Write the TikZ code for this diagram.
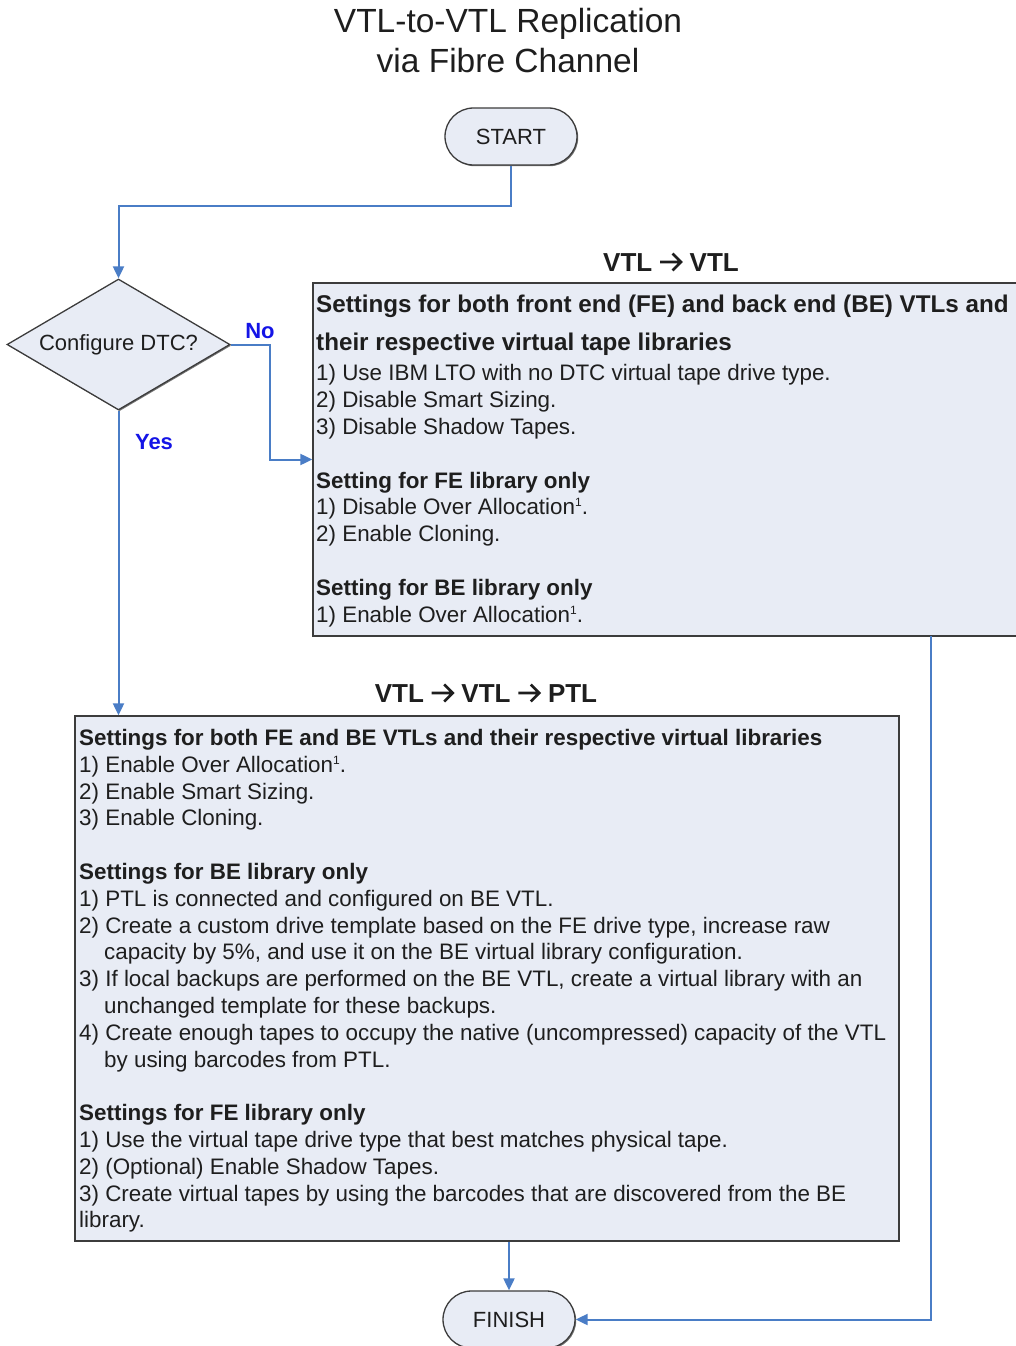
\documentclass[tikz,border=0pt]{standalone}
\usepackage{fontspec}
\setmainfont{Liberation Sans}
\usetikzlibrary{shapes.geometric,shapes.misc,arrows.meta,shadows}
\definecolor{boxfill}{HTML}{E8ECF5}
\definecolor{boxline}{HTML}{3C3C3C}
\definecolor{conncol}{HTML}{4A7DC6}
\definecolor{lblblue}{HTML}{1414E6}
\definecolor{txt}{HTML}{1E1E1E}
\newcommand{\sone}{\raisebox{8pt}{\fontsize{12}{12}\selectfont 1}}
\newcommand{\harr}{\tikz[baseline=0pt,x=1pt,y=1pt]{\path[use as bounding box] (0,0) rectangle (23,18);
  \draw[draw=txt,line width=2.7pt,line cap=butt,line join=miter] (0.5,9) -- (21,9) (13,17.5) -- (21.5,9) -- (13,0.5);}}
\begin{document}
\begin{tikzpicture}[x=1pt,y=-1pt,
  every node/.style={text=txt},
  shape box/.style={draw=boxline,line width=1.3pt,fill=boxfill,
    drop shadow={shadow xshift=1.2pt,shadow yshift=-1.2pt,fill=black!55,opacity=1}},
  terminal/.style={shape box,rounded rectangle,minimum width=132pt,minimum height=57pt,
    inner sep=0pt,font=\fontsize{22}{26}\selectfont},
  decision/.style={shape box,diamond,minimum width=223pt,minimum height=131pt,
    inner sep=0pt,aspect=1.7,font=\fontsize{22}{26}\selectfont},
  panel/.style={shape box,rectangle,inner sep=0pt},
  bodytext/.style={anchor=north west,inner sep=0pt,align=left,
    font=\fontsize{22.4}{26.8}\selectfont},
  heading/.style={font=\bfseries\fontsize{26}{30}\selectfont,inner sep=0pt},
  lbl/.style={text=lblblue,font=\bfseries\fontsize{22}{26}\selectfont,inner sep=0pt},
  conn/.style={draw=conncol,line width=2pt,-{Triangle[length=12pt,width=11pt]}}]
\path[use as bounding box] (0,0) rectangle (1016,1346);
\clip (0,0) rectangle (1016,1346);

% title
\node[font=\fontsize{33.5}{40}\selectfont,align=center,inner sep=0pt] (title) at (508,41)
  {VTL-to-VTL Replication\\via Fibre Channel};

% terminals and decision
\node[terminal] (start) at (511,136.5) {START};
\node[decision] (dtc) at (118.5,344.5) {Configure DTC?};
\node[terminal] (finish) at (509,1319.5) {FINISH};

% panels
\node[panel,minimum width=717pt,minimum height=353pt] (box1) at (671.5,459.5) {};
\node[panel,minimum width=824pt,minimum height=525pt] (box2) at (487,978.5) {};

\node[heading] (h1) at (671,262) {VTL \harr\ VTL};
\node[heading] (h2) at (486,693) {VTL \harr\ VTL \harr\ PTL};

\node[bodytext] (t1) at (316,295) {%
{\bfseries\fontsize{24.2}{26.8}\selectfont Settings for both front end (FE) and back end (BE) VTLs and}\\[11.3pt]
{\bfseries\fontsize{24.2}{26.8}\selectfont their respective virtual tape libraries}\\[3.3pt]
1) Use IBM LTO with no DTC virtual tape drive type.\\
2) Disable Smart Sizing.\\
3) Disable Shadow Tapes.\\[26.8pt]
\textbf{Setting for FE library only}\\
1) Disable Over Allocation\sone.\\
2) Enable Cloning.\\[26.8pt]
\textbf{Setting for BE library only}\\
1) Enable Over Allocation\sone.};

\node[bodytext] (t2) at (79,729) {%
\textbf{Settings for both FE and BE VTLs and their respective virtual libraries}\\
1) Enable Over Allocation\sone.\\
2) Enable Smart Sizing.\\
3) Enable Cloning.\\[26.8pt]
\textbf{Settings for BE library only}\\
1) PTL is connected and configured on BE VTL.\\
2) Create a custom drive template based on the FE drive type, increase raw\\
\hspace*{25pt}capacity by 5\%, and use it on the BE virtual library configuration.\\
3) If local backups are performed on the BE VTL, create a virtual library with an\\
\hspace*{25pt}unchanged template for these backups.\\
4) Create enough tapes to occupy the native (uncompressed) capacity of the VTL\\
\hspace*{25pt}by using barcodes from PTL.\\[26.8pt]
\textbf{Settings for FE library only}\\
1) Use the virtual tape drive type that best matches physical tape.\\
2) (Optional) Enable Shadow Tapes.\\
3) Create virtual tapes by using the barcodes that are discovered from the BE\\
library.};

% connectors
\draw[conn] (start.south) -- ++(0,40) -| (dtc.north);
\draw[conn] (dtc.east) -- ++(39,0) |- (box1.west);
\draw[conn] (dtc.south) -- (dtc.south |- box2.north);
\draw[conn] (finish.north |- box2.south) -- (finish.north);
\coordinate (b1out) at (931,636);
\draw[conn] (b1out) |- (finish.east);

\node[lbl] (no) at (260,331) {No};
\node[lbl] (yes) at (154,442) {Yes};
\end{tikzpicture}
\end{document}
